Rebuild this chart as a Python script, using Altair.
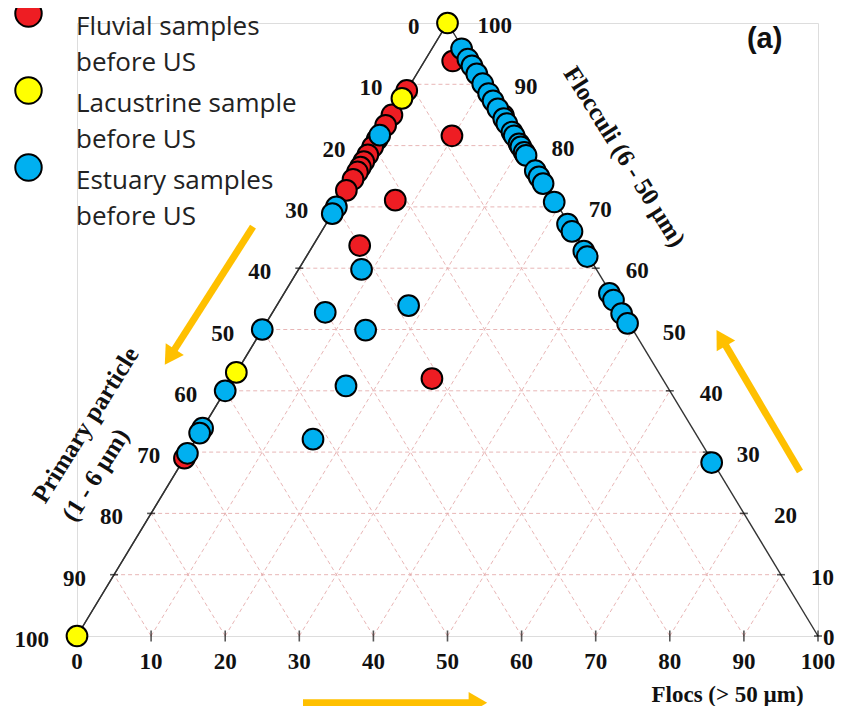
import altair as alt
import pandas as pd

# ---------------- data (ternary %: primary, flocculi, flocs) ----------------
groups = ["Fluvial samples|before US", "Lacustrine sample|before US", "Estuary samples|before US"]
group_colors = ["#EE1D23", "#FFFF00", "#00B0F0"]
group_z = [0, 2, 1]

fluvial_primary  = [11.0, 15.0, 16.7, 19.0, 20.2, 21.5, 22.6, 23.5, 24.3, 25.5, 27.3, 71.0,
                    8.6, 21.5, 30.0, 31.1, 2.4, 0.0]
fluvial_flocculi = [89.0, 85.0, 83.3, 81.0, 79.8, 78.5, 77.4, 76.5, 75.7, 74.5, 72.7, 29.0,
                    81.6, 71.1, 63.7, 42.0, 93.8, 84.9]
fluvial_flocs    = [0.0, 0.0, 0.0, 0.0, 0.0, 0.0, 0.0, 0.0, 0.0, 0.0, 0.0, 0.0,
                    9.8, 7.4, 6.3, 26.9, 3.8, 15.1]

lacustrine_primary  = [0.0, 12.3, 57.0, 100.0]
lacustrine_flocculi = [100.0, 87.7, 43.0, 0.0]
lacustrine_flocs    = [0.0, 0.0, 0.0, 0.0]

estuary_primary  = [18.3, 30.0, 31.1, 50.0, 60.0, 66.1, 66.9, 70.2,
                    31.7, 40.1, 28.3, 36.1, 43.3, 52.1,
                    0.2, 0.2, 0.2, 0.2, 0.2, 0.2, 0.2, 0.2, 0.2, 0.2,
                    0.2, 0.2, 0.2, 0.2, 0.2, 0.2, 0.2, 0.2, 0.2, 0.2,
                    0.2, 0.2, 0.2, 0.2, 0.2, 0.2, 0.2, 0.2, 0.2]
estuary_flocculi = [81.7, 70.0, 68.9, 50.0, 40.0, 33.9, 33.1, 29.8,
                    59.8, 52.8, 53.9, 49.9, 40.8, 32.1,
                    95.8, 94.1, 93.0, 91.7, 90.1, 88.5, 87.3, 86.0, 84.4, 83.6,
                    82.2, 81.6, 80.3, 79.8, 78.9, 78.4, 75.9, 74.9, 73.8, 70.8,
                    67.2, 66.0, 62.8, 61.9, 55.9, 54.8, 52.6, 51.0, 28.3]
estuary_flocs    = [0.0, 0.0, 0.0, 0.0, 0.0, 0.0, 0.0, 0.0,
                    8.5, 7.1, 17.8, 14.0, 15.9, 15.8,
                    4.0, 5.7, 6.8, 8.1, 9.7, 11.3, 12.5, 13.8, 15.4, 16.2,
                    17.6, 18.2, 19.5, 20.0, 20.9, 21.4, 23.9, 24.9, 26.0, 29.0,
                    32.6, 33.8, 37.0, 37.9, 43.9, 45.0, 47.2, 48.8, 71.5]

tick_values = [0, 10, 20, 30, 40, 50, 60, 70, 80, 90, 100]
grid_values = [10, 20, 30, 40, 50, 60, 70, 80, 90]

axis_titles = ["Flocs (> 50 µm)", "Flocculi (6 - 50 µm)", "Primary particle|(1 - 6 µm)"]
panel_label = ["(a)"]

# annotation anchors, in plot units (x: 0-100 along the base, y: flocculi height)
arrow_x0 = [23.75, 97.57, 30.5]
arrow_y0 = [66.78, 26.82, -10.9]
arrow_x1 = [12.52, 86.94, 54.1]
arrow_y1 = [45.52, 48.63, -10.9]
arrow_angle = [212.5, 329.5, 90.0]

title_x = [87.8, 73.9, -4.3]
title_y = [-9.6, 78.2, 21.4]
panel_x = [92.8]
panel_y = [97.4]

# ---------------- tables ----------------
frames = []
for g, P, F, B, z in [(groups[0], fluvial_primary, fluvial_flocculi, fluvial_flocs, group_z[0]),
                      (groups[1], lacustrine_primary, lacustrine_flocculi, lacustrine_flocs, group_z[1]),
                      (groups[2], estuary_primary, estuary_flocculi, estuary_flocs, group_z[2])]:
    frames.append(pd.DataFrame({"group": g, "primary": P, "flocculi": F, "flocs": B, "z": z}))
points = pd.concat(frames, ignore_index=True)

# grid lines: constant flocculi, constant flocs, constant primary
gl = []
for v in grid_values:
    gl.append({"f1": v, "b1": 0, "f2": v, "b2": 100 - v})
    gl.append({"f1": 0, "b1": v, "f2": 100 - v, "b2": v})
    gl.append({"f1": 0, "b1": 100 - v, "f2": 100 - v, "b2": 0})
grid = pd.DataFrame(gl)

edges = pd.DataFrame({"f1": [0, 0, 100], "b1": [0, 100, 0], "f2": [100, 100, 0], "b2": [0, 0, 0]})

bottom_ticks = pd.DataFrame({"v": tick_values, "flocs": tick_values, "flocculi": 0})
left_ticks = pd.DataFrame({"v": tick_values, "flocs": 0, "flocculi": [100 - v for v in tick_values]})
right_ticks = pd.DataFrame({"v": tick_values, "flocculi": tick_values, "flocs": [100 - v for v in tick_values]})

arrows = pd.DataFrame({"x": arrow_x0, "y": arrow_y0, "x2": arrow_x1, "y2": arrow_y1, "ang": arrow_angle})
titles = pd.DataFrame({"t": axis_titles, "x": title_x, "y": title_y})
panel = pd.DataFrame({"t": panel_label, "x": panel_x, "y": panel_y})

# ---------------- chart ----------------
XS = alt.Scale(domain=[0, 100], nice=False, zero=False)
YS = alt.Scale(domain=[0, 100], nice=False, zero=False)
CX = "datum.flocs + datum.flocculi / 2"
CY = "datum.flocculi"

def X(f):
    return alt.X(f, type="quantitative", scale=XS, axis=None)

def Y(f):
    return alt.Y(f, type="quantitative", scale=YS, axis=None)

grid_layer = alt.Chart(grid).transform_calculate(
    x="datum.b1 + datum.f1 / 2", y="datum.f1", x2="datum.b2 + datum.f2 / 2", y2="datum.f2"
).mark_rule(color="#E4A9A9", strokeWidth=1, strokeDash=[4, 3], opacity=0.85).encode(
    x=X("x"), y=Y("y"), x2="x2:Q", y2="y2:Q")

edge_layer = alt.Chart(edges).transform_calculate(
    x="datum.b1 + datum.f1 / 2", y="datum.f1", x2="datum.b2 + datum.f2 / 2", y2="datum.f2"
).mark_rule(color="#333333", strokeWidth=1.4).encode(
    x=X("x"), y=Y("y"), x2="x2:Q", y2="y2:Q")

def tick_layer(df, orient, size):
    return alt.Chart(df).transform_calculate(x=CX, y=CY).mark_tick(
        orient=orient, size=size, thickness=1.6, color="#111111").encode(x=X("x"), y=Y("y"))

ticks = (tick_layer(bottom_ticks, "vertical", 11)
         + tick_layer(left_ticks, "horizontal", 8)
         + tick_layer(right_ticks, "horizontal", 8))

NUMF = dict(font="Liberation Serif", fontWeight="bold", fontSize=23, color="#111111")

bottom_labels = alt.Chart(bottom_ticks).transform_calculate(x=CX, y=CY).mark_text(
    align="center", baseline="middle", dy=26, **NUMF).encode(x=X("x"), y=Y("y"), text="v:Q")
left_labels = alt.Chart(left_ticks).transform_calculate(x=CX, y=CY).mark_text(
    align="right", baseline="middle", dx=-28, dy=4, **NUMF).encode(x=X("x"), y=Y("y"), text="v:Q")
right_labels = alt.Chart(right_ticks).transform_filter("datum.v > 0").transform_calculate(x=CX, y=CY).mark_text(
    align="left", baseline="middle", dx=30, dy=3, **NUMF).encode(x=X("x"), y=Y("y"), text="v:Q")
right_zero = alt.Chart(right_ticks).transform_filter("datum.v == 0").transform_calculate(x=CX, y=CY).mark_text(
    align="left", baseline="middle", dx=5, dy=2, **NUMF).encode(x=X("x"), y=Y("y"), text="v:Q")

TF = dict(font="Liberation Serif", fontWeight="bold", color="#111111")
t_flocs = alt.Chart(titles).transform_filter(alt.datum.t == axis_titles[0]).mark_text(
    align="center", baseline="middle", fontSize=23, **TF).encode(x=X("x"), y=Y("y"), text="t:N")
t_flocculi = alt.Chart(titles).transform_filter(alt.datum.t == axis_titles[1]).mark_text(
    align="center", baseline="middle", angle=58, fontSize=25, **TF).encode(x=X("x"), y=Y("y"), text="t:N")
t_primary = alt.Chart(titles).transform_filter(alt.datum.t == axis_titles[2]).mark_text(
    align="left", baseline="alphabetic", angle=302, lineBreak="|", lineHeight=35, fontSize=25,
    **TF).encode(x=X("x"), y=Y("y"), text="t:N")

panel_layer = alt.Chart(panel).mark_text(
    font="Liberation Sans", fontWeight="bold", fontSize=29, color="#111111",
    align="center", baseline="middle").encode(x=X("x"), y=Y("y"), text="t:N")

shafts = alt.Chart(arrows).mark_rule(color="#FFC000", strokeWidth=7).encode(
    x=X("x"), y=Y("y"), x2="x2:Q", y2="y2:Q")
heads = alt.Chart(arrows).mark_point(shape="triangle-up", filled=True, size=460,
                                     color="#FFC000", opacity=1).encode(
    x=X("x2"), y=Y("y2"), angle=alt.Angle("ang:Q", scale=None))

pts = alt.Chart(points).transform_calculate(x=CX, y=CY).mark_circle(
    size=430, stroke="black", strokeWidth=2, opacity=1).encode(
    x=X("x"), y=Y("y"),
    fill=alt.Fill("group:N", scale=alt.Scale(domain=groups, range=group_colors),
                  legend=alt.Legend(orient="none", legendX=-63, legendY=-24, title=None,
                                    symbolType="circle", symbolSize=700,
                                    symbolStrokeColor="black", symbolStrokeWidth=2,
                                    symbolOpacity=1, labelFont="Open Sans",
                                    labelFontSize=26, labelColor="#222222",
                                    labelExpr="split(datum.label, '|')",
                                    labelBaseline="top", labelOffset=33,
                                    labelLimit=400, rowPadding=-16, padding=0)),
    order=alt.Order("z:Q"))

chart = alt.layer(
    grid_layer, edge_layer, ticks, bottom_labels, left_labels, right_labels, right_zero,
    t_flocs, t_flocculi, t_primary, panel_layer, shafts, heads, pts
).properties(
    width=741, height=613,
    autosize=alt.AutoSizeParams(type="none"),
    padding={"left": 69, "top": 15, "right": 17, "bottom": 70},
).configure_view(stroke=None).configure(
    style={"guide-label": {"lineHeight": 36}}
)

chart.save("out.html", embed_options={"renderer": "svg", "actions": False})
